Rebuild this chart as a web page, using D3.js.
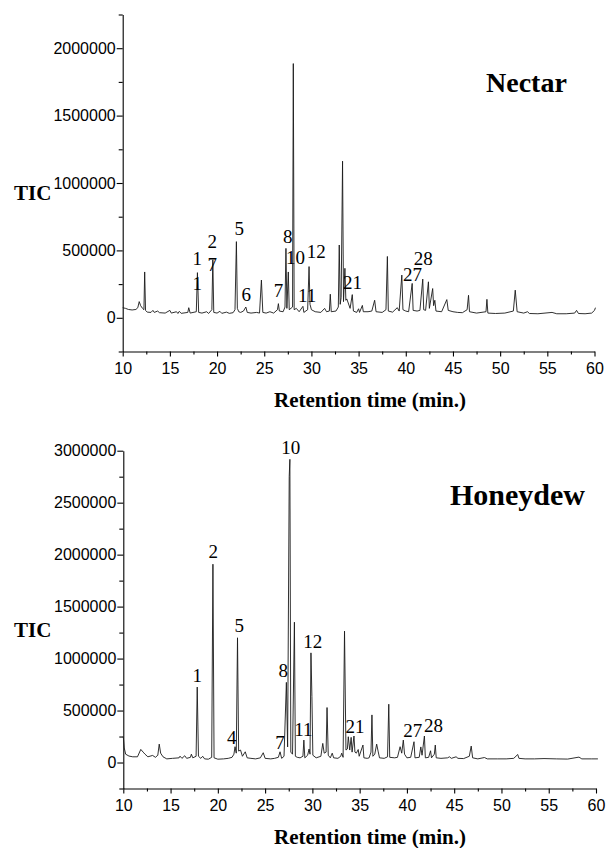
<!DOCTYPE html>
<html>
<head>
<meta charset="utf-8">
<script src="https://cdn.jsdelivr.net/npm/d3@7"></script>
<style>
  body { margin: 0; background: #fff; }
  .axis path, .axis line { stroke: #000; stroke-width: 1.1; }
  .axis text { font-family: "Liberation Sans", Arial, sans-serif; font-size: 16px; fill: #000; }
  .trace { fill: none; stroke: #1a1a1a; stroke-width: 0.9; stroke-linejoin: round; }
  .peak-label { font-family: "Liberation Serif", "Times New Roman", serif; font-size: 19px; fill: #000; }
  .axis-title { font-family: "Liberation Serif", "Times New Roman", serif; font-weight: bold; fill: #000; }
</style>
</head>
<body>
<div id="chart"></div>
<script>
// Data: retention time (min.) and TIC
const nectarTrace = [
  [10.0, 75000], [10.3, 70000], [10.6, 62000], [11.0, 58000], [11.4, 62000], [11.6, 75000],
  [11.75, 120000], [11.9, 90000], [12.1, 70000], [12.25, 60000], [12.33, 340000], [12.42, 55000],
  [12.6, 42000], [13.0, 40000], [13.2, 55000], [13.35, 40000], [13.7, 50000], [13.9, 38000],
  [14.5, 35000], [15.0, 55000], [15.15, 35000], [15.7, 45000], [15.85, 32000], [16.0, 48000],
  [16.2, 33000], [16.9, 40000], [17.0, 75000], [17.15, 35000], [17.8, 45000], [17.92, 335000],
  [18.05, 40000], [18.4, 35000], [18.9, 45000], [19.1, 32000], [19.45, 60000], [19.55, 430000],
  [19.65, 40000], [20.0, 35000], [20.3, 48000], [20.5, 33000], [21.0, 42000], [21.3, 33000],
  [21.7, 38000], [21.9, 60000], [22.05, 565000], [22.15, 70000], [22.3, 45000], [22.5, 40000],
  [22.8, 50000], [23.05, 80000], [23.2, 40000], [23.6, 35000], [24.2, 40000], [24.5, 35000],
  [24.7, 280000], [24.85, 40000], [25.2, 35000], [25.6, 45000], [26.0, 35000], [26.4, 60000],
  [26.5, 105000], [26.6, 50000], [27.0, 45000], [27.2, 80000], [27.3, 515000], [27.4, 70000],
  [27.55, 340000], [27.65, 60000], [28.0, 80000], [28.08, 1886000], [28.17, 60000], [28.4, 70000],
  [28.7, 45000], [29.1, 85000], [29.2, 40000], [29.6, 60000], [29.75, 380000], [29.85, 100000],
  [30.0, 60000], [30.4, 45000], [31.0, 40000], [31.4, 70000], [31.6, 45000], [31.9, 50000],
  [32.0, 175000], [32.1, 45000], [32.6, 50000], [32.85, 80000], [32.95, 540000], [33.05, 100000],
  [33.15, 150000], [33.3, 1162000], [33.4, 120000], [33.55, 367000], [33.65, 130000], [33.75, 140000],
  [33.9, 110000], [34.1, 70000], [34.33, 172000], [34.45, 50000], [34.8, 40000], [35.0, 67000],
  [35.1, 40000], [35.4, 92000], [35.5, 45000], [36.0, 45000], [36.4, 50000], [36.7, 130000],
  [36.85, 45000], [37.5, 40000], [37.9, 60000], [38.05, 455000], [38.15, 50000], [38.6, 42000],
  [39.1, 75000], [39.3, 50000], [39.58, 317000], [39.7, 60000], [40.0, 50000], [40.3, 45000],
  [40.68, 255000], [40.78, 55000], [41.2, 50000], [41.5, 55000], [41.8, 287000], [41.9, 60000],
  [42.1, 55000], [42.4, 267000], [42.5, 70000], [42.85, 217000], [42.95, 90000], [43.08, 130000],
  [43.2, 50000], [43.8, 45000], [44.35, 135000], [44.5, 55000], [45.0, 45000], [45.5, 40000],
  [46.0, 38000], [46.5, 60000], [46.65, 167000], [46.75, 45000], [47.5, 35000], [48.5, 45000],
  [48.6, 137000], [48.7, 35000], [49.5, 32000], [50.5, 35000], [51.4, 50000], [51.6, 205000],
  [51.8, 45000], [52.5, 35000], [52.9, 45000], [53.1, 32000], [54.0, 30000], [55.5, 40000],
  [56.0, 30000], [57.0, 30000], [57.9, 35000], [58.1, 55000], [58.3, 32000], [59.0, 30000],
  [59.7, 35000], [60.0, 55000], [60.1, 75000]
]

const honeydewTrace = [
  [10.0, 250000], [10.1, 140000], [10.25, 80000], [10.6, 62000], [11.0, 55000], [11.5, 55000],
  [11.85, 126000], [12.1, 100000], [12.3, 80000], [12.6, 55000], [13.1, 68000], [13.4, 50000],
  [13.65, 70000], [13.8, 177000], [13.95, 90000], [14.2, 55000], [14.6, 35000], [15.2, 40000],
  [15.9, 45000], [16.0, 61000], [16.2, 40000], [16.5, 65000], [16.7, 40000], [17.1, 50000],
  [17.2, 80000], [17.35, 45000], [17.7, 60000], [17.82, 726000], [17.95, 60000], [18.2, 40000],
  [18.4, 60000], [18.6, 35000], [19.0, 32000], [19.35, 50000], [19.48, 1908000], [19.6, 45000],
  [20.0, 32000], [20.6, 35000], [21.1, 40000], [21.5, 50000], [21.7, 80000], [21.82, 152000],
  [21.95, 90000], [22.08, 1200000], [22.2, 110000], [22.4, 120000], [22.6, 60000], [22.9, 103000],
  [23.1, 45000], [23.5, 40000], [24.0, 35000], [24.5, 45000], [24.8, 94000], [25.0, 40000],
  [25.6, 35000], [26.0, 40000], [26.4, 50000], [26.58, 103000], [26.75, 40000], [27.0, 60000],
  [27.25, 771000], [27.38, 150000], [27.55, 2750000], [27.62, 2917000], [27.72, 100000], [27.9, 80000],
  [28.1, 1350000], [28.2, 60000], [28.4, 50000], [28.7, 45000], [29.0, 60000], [29.1, 216000],
  [29.2, 45000], [29.5, 70000], [29.65, 130000], [29.75, 80000], [29.85, 1055000], [29.95, 635000],
  [30.05, 70000], [30.4, 45000], [30.9, 60000], [31.1, 184000], [31.25, 90000], [31.45, 100000],
  [31.55, 529000], [31.68, 70000], [31.9, 45000], [32.1, 90000], [32.25, 45000], [32.7, 40000],
  [33.0, 60000], [33.1, 90000], [33.25, 50000], [33.4, 1264000], [33.55, 120000], [33.7, 130000],
  [33.8, 248000], [33.95, 120000], [34.1, 242000], [34.2, 100000], [34.4, 255000], [34.5, 100000],
  [34.65, 90000], [34.85, 125000], [34.95, 60000], [35.35, 168000], [35.45, 45000], [35.8, 40000],
  [36.0, 45000], [36.2, 100000], [36.3, 458000], [36.4, 60000], [36.6, 80000], [36.8, 177000],
  [36.95, 110000], [37.1, 45000], [37.6, 40000], [37.95, 55000], [38.08, 561000], [38.18, 50000],
  [38.7, 45000], [39.0, 50000], [39.28, 152000], [39.45, 90000], [39.62, 216000], [39.75, 80000],
  [40.0, 45000], [40.4, 50000], [40.75, 200000], [40.85, 45000], [41.3, 50000], [41.47, 150000],
  [41.6, 70000], [41.85, 255000], [41.95, 45000], [42.3, 50000], [42.5, 113000], [42.6, 45000],
  [42.9, 80000], [43.0, 168000], [43.1, 45000], [43.6, 40000], [44.3, 45000], [44.5, 55000],
  [44.7, 40000], [45.2, 55000], [45.4, 40000], [46.0, 38000], [46.6, 60000], [46.8, 158000],
  [46.95, 45000], [47.5, 35000], [48.2, 48000], [48.5, 35000], [49.6, 35000], [50.5, 35000],
  [51.3, 40000], [51.72, 77000], [51.85, 40000], [52.5, 35000], [53.5, 35000], [54.5, 38000],
  [55.8, 35000], [57.0, 33000], [58.2, 52000], [58.5, 35000], [59.5, 35000], [60.2, 35000]
]

// peak numbers: [text, retention time, TIC level of the label]
const nectarLabels = [
  ['1', 17.9, 438000], ['1', 17.9, 254000], ['2', 19.5, 570000], ['7', 19.5, 400000],
  ['5', 22.35, 660000], ['6', 23.1, 175000], ['7', 26.5, 202000], ['8', 27.5, 607000],
  ['10', 28.3, 452000], ['11', 29.55, 165000], ['12', 30.5, 492000], ['21', 34.35, 260000],
  ['27', 40.7, 321000], ['28', 41.85, 444000]
]

const honeydewLabels = [
  ['1', 17.83, 835000], ['2', 19.52, 2027000], ['4', 21.47, 242000], ['5', 22.27, 1318000],
  ['7', 26.58, 190000], ['8', 26.93, 886000], ['10', 27.71, 3037000], ['11', 29.05, 319000],
  ['12', 30.04, 1166000], ['21', 34.52, 351000], ['27', 40.62, 312000], ['28', 42.8, 361000]
]

const xTicks = [10, 15, 20, 25, 30, 35, 40, 45, 50, 55, 60]
const nectarYTicks = [0, 500000, 1000000, 1500000, 2000000]
const honeydewYTicks = [0, 500000, 1000000, 1500000, 2000000, 2500000, 3000000]

// Dimensions
const dimensions = {
  width: 607,
  height: 848
}

const svg = d3.select('#chart')
  .append('svg')
  .attr('width', dimensions.width)
  .attr('height', dimensions.height)

function panel(opts) {
  const g = svg.append('g')

  // scales
  const xScale = d3.scaleLinear()
    .domain([10, 60])
    .range(opts.xRange)

  const yScale = d3.scaleLinear()
    .domain(opts.yDomain)
    .range(opts.yRange)

  // minor ticks halfway between the labelled ones
  const xMinor = xTicks.slice(0, -1).map(d => d + 2.5)
  const yMinor = d3.range(opts.yDomain[0], opts.yDomain[1] + 1, 250000)
    .filter(d => !opts.yTicks.includes(d))

  // axes
  const xAxisGroup = g.append('g')
    .classed('axis', true)
    .attr('transform', `translate(0, ${opts.yRange[0]})`)

  xAxisGroup.call(d3.axisBottom(xScale)
    .tickValues(xTicks)
    .tickSize(5)
    .tickSizeOuter(0)
    .tickPadding(6.5)
    .tickFormat(d3.format('d')))

  xAxisGroup.append('g')
    .call(d3.axisBottom(xScale).tickValues(xMinor).tickSize(3).tickFormat(''))
    .select('.domain').remove()

  const yAxisGroup = g.append('g')
    .classed('axis', true)
    .attr('transform', `translate(${opts.xRange[0]}, 0)`)

  yAxisGroup.call(d3.axisLeft(yScale)
    .tickValues(opts.yTicks)
    .tickSize(6)
    .tickSizeOuter(0)
    .tickPadding(1)
    .tickFormat(d3.format('d')))

  yAxisGroup.append('g')
    .call(d3.axisLeft(yScale).tickValues(yMinor).tickSize(4).tickFormat(''))
    .select('.domain').remove()

  // trace
  const line = d3.line()
    .x(d => xScale(d[0]))
    .y(d => yScale(d[1]))

  g.append('path')
    .datum(opts.trace)
    .classed('trace', true)
    .attr('d', line)

  // peak labels
  g.append('g')
    .selectAll('text')
    .data(opts.labels)
    .join('text')
    .classed('peak-label', true)
    .attr('x', d => xScale(d[1]))
    .attr('y', d => yScale(d[2]))
    .attr('dy', '0.35em')
    .attr('text-anchor', 'middle')
    .text(d => d[0])

  // titles
  g.append('text')
    .classed('axis-title', true)
    .attr('x', 370)
    .attr('y', opts.xTitleY)
    .attr('text-anchor', 'middle')
    .style('font-size', '21px')
    .text('Retention time (min.)')

  g.append('text')
    .classed('axis-title', true)
    .attr('x', 14)
    .attr('y', opts.ticY)
    .style('font-size', '21px')
    .text('TIC')

  g.append('text')
    .classed('axis-title', true)
    .attr('x', opts.nameX)
    .attr('y', opts.nameY)
    .style('font-size', opts.nameSize)
    .text(opts.name)
}

panel({
  trace: nectarTrace,
  labels: nectarLabels,
  yTicks: nectarYTicks,
  xRange: [122.7, 594.5],
  yDomain: [-250000, 2250000],
  yRange: [351.5, 14.5],
  xTitleY: 406.5,
  ticY: 200,
  name: 'Nectar',
  nameX: 486,
  nameY: 92,
  nameSize: '28px'
})

panel({
  trace: honeydewTrace,
  labels: honeydewLabels,
  yTicks: honeydewYTicks,
  xRange: [123.3, 596],
  yDomain: [-250000, 3000000],
  yRange: [788.5, 450.7],
  xTitleY: 844,
  ticY: 637,
  name: 'Honeydew',
  nameX: 450,
  nameY: 505,
  nameSize: '30px'
})
</script>
</body>
</html>
